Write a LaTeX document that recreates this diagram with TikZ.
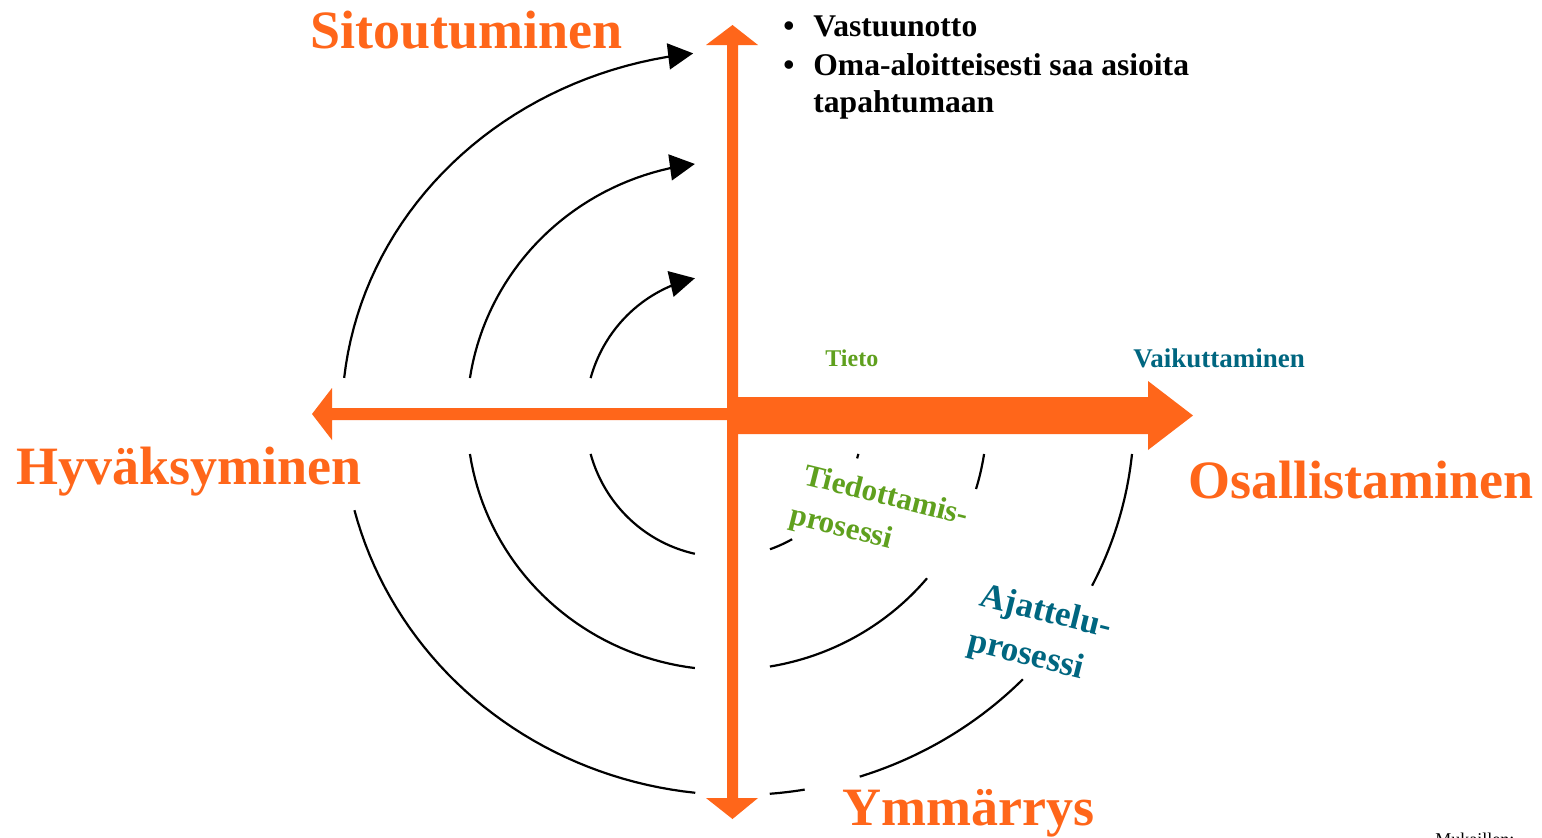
\documentclass[tikz,border=0pt]{standalone}
\usepackage{fontspec}
\setmainfont{Liberation Serif}
\usetikzlibrary{arrows.meta}
\definecolor{axisor}{RGB}{255,102,26}
\definecolor{tgreen}{RGB}{95,160,30}
\definecolor{tteal}{RGB}{0,102,128}
\newcommand\ringarc[7][]{%
  \draw[arcline,#1] plot[domain=#6:#7, samples=40] ({#2+#4*cos(\x)},{#3+#5*sin(\x)});}
\begin{document}
\begin{tikzpicture}[x=0.5pt,y=-0.5pt,
  arcline/.style={black, line width=1.1pt},
  tipped/.style={-{Triangle[length=12.5pt,width=13pt]}},
  big/.style={text=axisor, font=\fontsize{27}{32}\selectfont\bfseries, inner sep=0pt, anchor=base west},
  bul/.style={text=black, font=\fontsize{15.8}{19}\selectfont\bfseries, inner sep=0pt, anchor=base west},
  small/.style={font=\bfseries, inner sep=0pt, anchor=base west},
  proc/.style={font=\bfseries, inner sep=0pt, anchor=base west, rotate=-14}]
\useasboundingbox (0,0) rectangle (1542,837);
\clip (0,0) rectangle (1542,837);
\fill[white] (0,0) rectangle (1542,837);

% arcs: inner
\ringarc[tipped]{724.5}{416}{139}{141}{195.6}{257.7}
\ringarc{724.5}{416}{139}{141}{102.3}{164.4}
\ringarc{724.5}{416}{139}{141}{60.9}{70.9}
\ringarc{724.5}{416}{139}{141}{15.6}{17.5}
% middle
\ringarc[tipped]{727}{416}{260}{254}{188.6}{262.9}
\ringarc{727}{416}{260}{254}{97.1}{171.4}
\ringarc{727}{416}{260}{254}{39.7}{80.5}
\ringarc{727}{416}{260}{254}{8.6}{16.7}
% outer
\ringarc[tipped]{738}{416}{396}{365}{186}{263.5}
\ringarc{738}{416}{396}{379}{96.2}{165.6}
\ringarc{738}{416}{396}{379}{80.3}{85.4}
\ringarc{738}{416}{396}{379}{44}{72.1}
\ringarc{738}{416}{396}{379}{5.75}{26.6}

% orange axes
\fill[axisor] (733,408) -- (332,408) -- (332,388) -- (312,414) -- (332,440) -- (332,420) -- (733,420) -- cycle;
\fill[axisor] (733,397) -- (1148,397) -- (1148,381) -- (1193,415.5) -- (1148,450) -- (1148,434) -- (733,434) -- cycle;
\fill[axisor] (727,45) -- (706,45) -- (732.5,25) -- (758,45) -- (738,45) -- (738,798) -- (758,798) -- (732.5,819) -- (706,798) -- (727,798) -- cycle;

% main labels
\node[big] (sit) at (310,48) {Sitoutuminen};
\node[big] (hyv) at (16,484) {Hyväksyminen};
\node[big] (osa) at (1188,498) {Osallistaminen};
\node[big] (ymm) at (842,825) {Ymmärrys};

% bullets
\node[bul] (b1) at (783,36) {•};
\node[bul] (t1) at (813,36) {Vastuunotto};
\node[bul] (b2) at (783,75) {•};
\node[bul] (t2) at (813,75) {Oma-aloitteisesti saa asioita};
\node[bul] (t3) at (813,112) {tapahtumaan};

% small labels
\node[small, text=tgreen, font=\fontsize{12}{14}\selectfont\bfseries] (tieto) at (825,366) {Tieto};
\node[small, text=tteal, font=\fontsize{13.5}{16}\selectfont\bfseries] (vaik) at (1133,367) {Vaikuttaminen};

% process labels
\node[proc, text=tgreen, font=\fontsize{15.5}{18}\selectfont\bfseries] (tied1) at (802,484) {Tiedottamis-};
\node[proc, text=tgreen, font=\fontsize{15.5}{18}\selectfont\bfseries] (tied2) at (788,523) {prosessi};
\node[proc, text=tteal, font=\fontsize{17.5}{20}\selectfont\bfseries] (ajat1) at (978,605) {Ajattelu-};
\node[proc, text=tteal, font=\fontsize{17.5}{20}\selectfont\bfseries] (ajat2) at (966,650) {prosessi};

% source note (cut off at the bottom edge)
\node[small, font=\fontsize{9}{11}\selectfont] (src) at (1435,845) {Mukaillen:};
\end{tikzpicture}
\end{document}
